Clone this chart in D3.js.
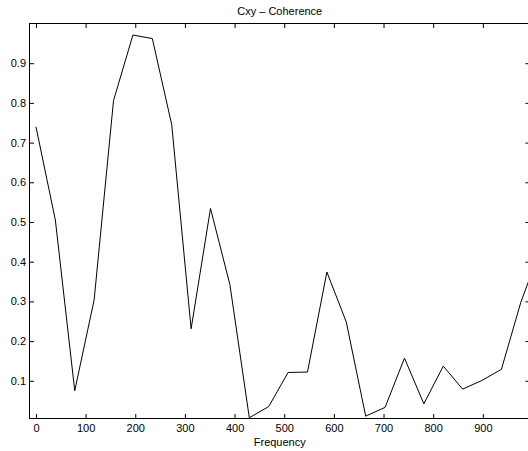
<!DOCTYPE html>
<html>
<head>
<meta charset="utf-8">
<script src="https://cdn.jsdelivr.net/npm/d3@7"></script>
<style>
  html, body { margin: 0; padding: 0; background: #fff; }
  svg { display: block; }
  text { font-family: "Liberation Sans", Arial, Helvetica, sans-serif; font-size: 11px; fill: #000; }
</style>
</head>
<body>
<svg id="chart" width="528" height="451"></svg>
<script>
// Coherence estimate Cxy sampled on a uniform frequency grid (step 1000/25.6 Hz)
const frequencies = [
  0, 39.06, 78.13, 117.19, 156.25, 195.31, 234.38, 273.44, 312.5, 351.56,
  390.63, 429.69, 468.75, 507.81, 546.88, 585.94, 625, 664.06, 703.13, 742.19,
  781.25, 820.31, 859.38, 898.44, 937.5, 976.56, 1015.63
];
const coherence = [
  0.740, 0.505, 0.075, 0.304, 0.806, 0.971, 0.962, 0.745, 0.231, 0.534,
  0.342, 0.007, 0.035, 0.121, 0.122, 0.374, 0.248, 0.011, 0.033, 0.157,
  0.042, 0.137, 0.079, 0.101, 0.129, 0.298, 0.430
];
const xTicks = [0, 100, 200, 300, 400, 500, 600, 700, 800, 900];
const yTicks = [0.1, 0.2, 0.3, 0.4, 0.5, 0.6, 0.7, 0.8, 0.9];
const titleText = "Cxy \u2013 Coherence";
const xLabelText = "Frequency";

const svg = d3.select("#chart");
const plotLeft = 29.5, plotRight = 530, plotTop = 23.5, plotBottom = 418.5;
const tickLen = 4.5;

const x = d3.scaleLinear().domain([-13, 995]).range([plotLeft, plotRight]);
const y = d3.scaleLinear().domain([0.005, 1]).range([plotBottom, plotTop]);

svg.append("rect").attr("width", 528).attr("height", 451).attr("fill", "#fff");

svg.append("defs").append("clipPath").attr("id", "plot-clip")
  .append("rect").attr("x", plotLeft).attr("y", plotTop)
  .attr("width", plotRight - plotLeft).attr("height", plotBottom - plotTop);

// axes with inward-pointing ticks on all four sides
const axisB = svg.append("g").attr("transform", `translate(0,${plotBottom})`)
  .call(d3.axisBottom(x).tickValues(xTicks).tickFormat(d3.format("d"))
    .tickSizeInner(-tickLen).tickSizeOuter(0).tickPadding(6));
const axisT = svg.append("g").attr("transform", `translate(0,${plotTop})`)
  .call(d3.axisTop(x).tickValues(xTicks).tickFormat("")
    .tickSizeInner(-tickLen).tickSizeOuter(0));
const axisL = svg.append("g").attr("transform", `translate(${plotLeft},0)`)
  .call(d3.axisLeft(y).tickValues(yTicks).tickFormat(d3.format(".1f"))
    .tickSizeInner(-tickLen).tickSizeOuter(0).tickPadding(3.5));
const axisR = svg.append("g").attr("transform", `translate(${plotRight},0)`)
  .call(d3.axisRight(y).tickValues(yTicks).tickFormat("")
    .tickSizeInner(-tickLen).tickSizeOuter(0));

[axisB, axisT, axisL, axisR].forEach(g => {
  g.select(".domain").remove();
  g.selectAll("line").attr("stroke", "#000").attr("stroke-width", 1);
  g.selectAll("text").attr("font-family", null).attr("font-size", null).attr("fill", "#000");
});

// box frame
svg.append("rect")
  .attr("x", plotLeft).attr("y", plotTop)
  .attr("width", plotRight - plotLeft).attr("height", plotBottom - plotTop)
  .attr("fill", "none").attr("stroke", "#000").attr("stroke-width", 1);

// coherence curve
const line = d3.line().x((d, i) => x(frequencies[i])).y(d => y(d));
svg.append("path")
  .datum(coherence)
  .attr("clip-path", "url(#plot-clip)")
  .attr("d", line)
  .attr("fill", "none")
  .attr("stroke", "#000")
  .attr("stroke-width", 1);

// title and axis label
svg.append("text").attr("x", (plotLeft + plotRight) / 2).attr("y", 15)
  .attr("text-anchor", "middle").text(titleText);
svg.append("text").attr("x", (plotLeft + plotRight) / 2).attr("y", 446)
  .attr("text-anchor", "middle").text(xLabelText);
</script>
</body>
</html>
